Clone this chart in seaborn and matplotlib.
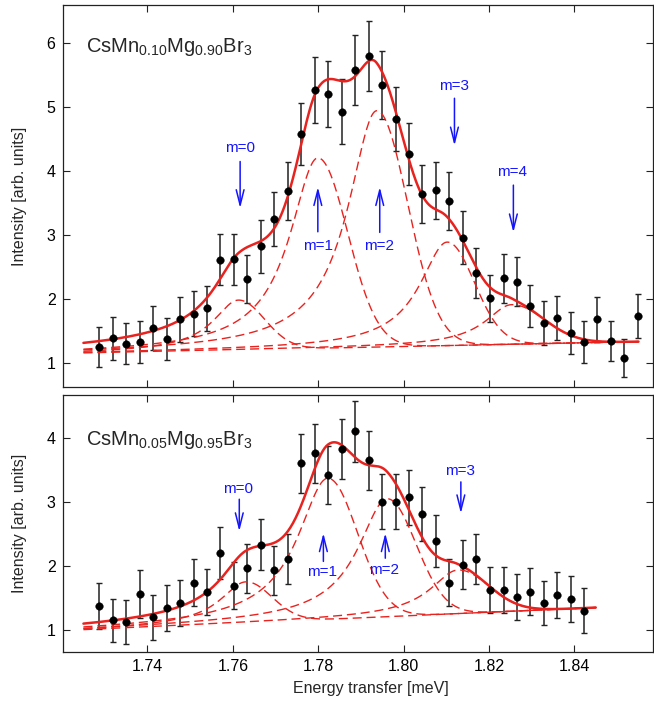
import numpy as np
import seaborn as sns
import matplotlib
matplotlib.use("Agg")
import matplotlib.pyplot as plt

# ----- Data ----- #
energy = [1.7287, 1.7319, 1.7350, 1.7382, 1.7413, 1.7445, 1.7476, 1.7508, 1.7539, 1.7571,
          1.7603, 1.7634, 1.7666, 1.7697, 1.7729, 1.7760, 1.7792, 1.7823, 1.7855, 1.7886,
          1.7918, 1.7950, 1.7981, 1.8013, 1.8044, 1.8076, 1.8107, 1.8139, 1.8170, 1.8202,
          1.8234, 1.8265, 1.8297, 1.8328, 1.8360, 1.8391, 1.8423, 1.8454, 1.8486, 1.8517,
          1.8549]

top_y = [1.25, 1.38, 1.30, 1.33, 1.54, 1.37, 1.68, 1.77, 1.85, 2.61,
         2.62, 2.31, 2.82, 3.25, 3.69, 4.58, 5.27, 5.21, 4.93, 5.58,
         5.80, 5.35, 4.81, 4.27, 3.64, 3.70, 3.53, 2.96, 2.41, 2.01,
         2.32, 2.27, 1.89, 1.62, 1.70, 1.46, 1.32, 1.68, 1.34, 1.07,
         1.73]
top_err = [0.31, 0.33, 0.32, 0.33, 0.34, 0.33, 0.35, 0.35, 0.35, 0.40,
           0.40, 0.38, 0.41, 0.43, 0.45, 0.49, 0.52, 0.52, 0.51, 0.55,
           0.55, 0.53, 0.50, 0.48, 0.45, 0.45, 0.45, 0.42, 0.39, 0.37,
           0.38, 0.38, 0.33, 0.34, 0.35, 0.33, 0.33, 0.35, 0.32, 0.30,
           0.35]

bot_y = [1.38, 1.15, 1.12, 1.56, 1.20, 1.34, 1.42, 1.74, 1.59, 2.20,
         1.69, 1.96, 2.33, 1.93, 2.11, 3.60, 3.76, 3.42, 3.82, 4.10,
         3.65, 3.00, 3.00, 3.07, 2.81, 2.39, 1.74, 2.02, 2.11, 1.62,
         1.63, 1.51, 1.60, 1.42, 1.54, 1.48, 1.30]
bot_err = [0.36, 0.34, 0.34, 0.37, 0.35, 0.36, 0.36, 0.37, 0.36, 0.40,
           0.37, 0.38, 0.40, 0.38, 0.39, 0.46, 0.46, 0.45, 0.47, 0.48,
           0.46, 0.43, 0.43, 0.43, 0.42, 0.40, 0.36, 0.38, 0.39, 0.36,
           0.36, 0.36, 0.37, 0.35, 0.36, 0.36, 0.35]

# fit parameters: peak centres, amplitudes, low / high side half widths,
# linear background (value at fit range start / end)
top_centres = [1.7613, 1.7799, 1.7937, 1.8102, 1.8253]
top_amps = [0.78, 2.98, 3.70, 1.62, 0.62]
top_w_lo = [0.0072, 0.0080, 0.0082, 0.0078, 0.0075]
top_w_hi = [0.0072, 0.0082, 0.0085, 0.0075, 0.0090]
top_bg = [1.15, 1.33]
top_range = [1.725, 1.855]

bot_centres = [1.7630, 1.7822, 1.7961, 1.8127]
bot_amps = [0.64, 2.20, 1.84, 0.68]
bot_w_lo = [0.0072, 0.0085, 0.0082, 0.0078]
bot_w_hi = [0.0072, 0.0082, 0.0080, 0.0085]
bot_bg = [1.00, 1.35]
bot_range = [1.725, 1.845]

top_labels = ["m=0", "m=1", "m=2", "m=3", "m=4"]
top_text_xy = [(1.7617, 4.36), (1.7799, 2.82), (1.7942, 2.83), (1.8117, 5.33), (1.8255, 3.98)]
top_arrows = [(1.7617, 4.15, 3.42), (1.7799, 3.05, 3.75), (1.7944, 3.04, 3.75),
              (1.8119, 5.14, 4.40), (1.8257, 3.78, 3.04)]   # x, tail y, head y

bot_labels = ["m=0", "m=1", "m=2", "m=3"]
bot_text_xy = [(1.7611, 3.20), (1.7810, 1.91), (1.7955, 1.94), (1.8132, 3.48)]
bot_arrows = [(1.7615, 3.04, 2.54), (1.7812, 2.07, 2.51), (1.7957, 2.12, 2.51),
              (1.8134, 3.31, 2.82)]

RED = "#e8231f"
BLUE = "#1414ff"


def peak(x, c, a, w_lo, w_hi):
    # lorentzian tail on the low energy side, gaussian fall-off above
    lo = 1.0 / (1.0 + ((x - c) / w_lo) ** 2)
    hi = np.exp(-np.log(2) * ((x - c) / w_hi) ** 2)
    return a * np.where(x < c, lo, hi)


sns.set_style("ticks")
plt.rcParams["font.family"] = ["Liberation Sans", "DejaVu Sans"]
plt.rcParams["mathtext.default"] = "regular"

fig = plt.figure(figsize=(6.54, 7.07), dpi=100)
ax_top = fig.add_axes([0.0956, 0.4522, 0.9022, 0.5407])
ax_bot = fig.add_axes([0.0956, 0.0774, 0.9022, 0.3639], sharex=ax_top)

panels = [
    (ax_top, top_y, top_err, top_centres, top_amps, top_w_lo, top_w_hi, top_bg, top_range,
     top_labels, top_text_xy, top_arrows, r"CsMn$_{0.10}$Mg$_{0.90}$Br$_3$", 0.878, (0.615, 6.60)),
    (ax_bot, bot_y, bot_err, bot_centres, bot_amps, bot_w_lo, bot_w_hi, bot_bg, bot_range,
     bot_labels, bot_text_xy, bot_arrows, r"CsMn$_{0.05}$Mg$_{0.95}$Br$_3$", 0.805, (0.652, 4.666)),
]

for (ax, ys, errs, centres, amps, w_lo, w_hi, bg, rng, labels, text_xy, arrows,
     name, name_y, ylim) in panels:
    xs = energy[:len(ys)]
    xf = np.linspace(rng[0], rng[1], 600)
    base = bg[0] + (bg[1] - bg[0]) * (xf - rng[0]) / (rng[1] - rng[0])

    total = base.copy()
    for c, a, wl, wh in zip(centres, amps, w_lo, w_hi):
        comp = peak(xf, c, a, wl, wh)
        total += comp
        sns.lineplot(x=xf, y=base + comp, ax=ax, color=RED, lw=1.0,
                     linestyle=(0, (6.5, 3.5)), zorder=2.2, sort=False)
    sns.lineplot(x=xf, y=total, ax=ax, color=RED, lw=1.8, zorder=2.5, sort=False)

    ax.errorbar(xs, ys, yerr=errs, fmt="none", ecolor="#222222", elinewidth=1.1,
                capsize=2.5, capthick=1.0, zorder=2)
    sns.scatterplot(x=xs, y=ys, ax=ax, color="black", s=30, edgecolor="black",
                    linewidth=0.3, zorder=3)

    for lab, (tx, ty), (axx, y0, y1) in zip(labels, text_xy, arrows):
        ax.text(tx, ty, lab, color=BLUE, fontsize=11, ha="center", va="center")
        ax.annotate("", xy=(axx, y1), xytext=(axx, y0),
                    arrowprops=dict(arrowstyle="->,head_length=1.1,head_width=0.28",
                                    color=BLUE, lw=1.1, mutation_scale=10,
                                    shrinkA=0, shrinkB=0))

    ax.text(0.04, name_y, name, transform=ax.transAxes, fontsize=14.5,
            ha="left", va="baseline")

    ax.set_ylim(*ylim)
    ax.set_xlim(1.7201, 1.8583)
    ax.set_ylabel("Intensity [arb. units]", fontsize=11.5)
    ax.yaxis.set_label_coords(-0.06, 0.5)
    ax.set_xlabel("")
    ax.tick_params(direction="in", length=5, width=0.8, top=True, right=True,
                   labelsize=11.5, colors="#222222", labelcolor="black")
    ax.tick_params(axis="y", pad=5)
    ax.tick_params(axis="x", pad=4.5)
    for sp in ax.spines.values():
        sp.set_visible(True)
        sp.set_linewidth(0.9)
        sp.set_color("#222222")

ax_top.set_yticks([1, 2, 3, 4, 5, 6])
ax_bot.set_yticks([1, 2, 3, 4])
ax_bot.set_xticks([1.74, 1.76, 1.78, 1.80, 1.82, 1.84])
ax_bot.set_xticklabels(["1.74", "1.76", "1.78", "1.80", "1.82", "1.84"])
ax_top.tick_params(axis="x", labelbottom=False)
ax_bot.set_xlabel("Energy transfer [meV]", fontsize=11.5)
ax_bot.xaxis.set_label_coords(0.523, -0.112)

fig.savefig("out.png", dpi=100)
